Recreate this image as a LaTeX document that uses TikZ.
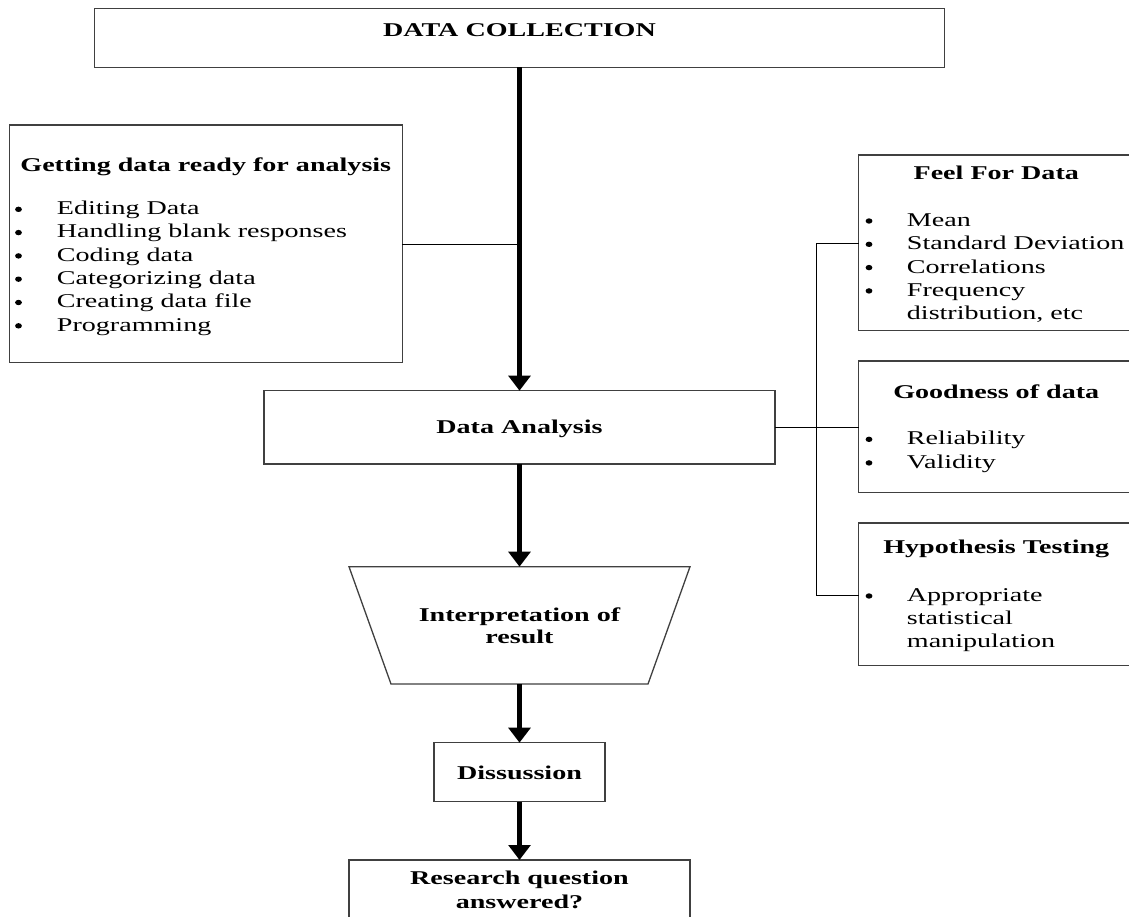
\documentclass[tikz,border=0pt]{standalone}
\usepackage{fontspec}
\setmainfont{Liberation Serif}[FakeStretch=1.44]
\usetikzlibrary{arrows.meta,shapes.geometric}
\newcommand\myfz{\fontsize{19.5pt}{23.3pt}\selectfont}
\tikzset{
  box/.style={draw=black!75, fill=white, line width=1.3pt, inner sep=0, outer sep=0},
  boxline/.style={draw=black!75, line width=1.3pt},
  flow/.style={line width=4.8pt, -{Triangle[width=21.7pt,length=15pt]}},
  link/.style={line width=1pt},
  ttl/.style={font=\myfz\bfseries, anchor=base, inner sep=0},
  itm/.style={font=\myfz, anchor=base west, inner sep=0},
  bul/.style={ellipse, fill=black, inner sep=0, minimum width=6.8pt, minimum height=5.4pt},
}
\begin{document}
\begin{tikzpicture}[x=1pt,y=-1pt]
\fill[white] (0,0) rectangle (1129,917);
\useasboundingbox (0,0) rectangle (1129,917);
\clip (0,0) rectangle (1129,917);

% Data collection
\node[box, minimum width=850, minimum height=59] (dc) at (519.5,37.8) {};
\node[ttl] (dct) at (519.5,36.6) {DATA COLLECTION};

% Getting data ready
\node[box, minimum width=393, minimum height=237.7] (get) at (205.8,243.85) {};
\node[ttl] (gett) at (205.8,171.4) {Getting data ready for analysis};
\foreach \t [count=\i] in {Editing Data, Handling blank responses, Coding data, Categorizing data, Creating data file, Programming} {
  \node[bul] (gb\i) at ({18.5},{209.3+23.3*(\i-1)}) {};
  \node[itm] (gi\i) at ({56.7},{214.7+23.3*(\i-1)}) {\t};
}

% Feel for data
\node[box, minimum width=275.5, minimum height=175.7] (feel) at (996.25,242.85) {};
\node[ttl] (feelt) at (996.25,179.4) {Feel For Data};
\foreach \t [count=\i] in {Mean, Standard Deviation, Correlations, Frequency} {
  \node[bul] (fb\i) at ({869},{221+23.3*(\i-1)}) {};
  \node[itm] (fi\i) at ({906.7},{226.4+23.3*(\i-1)}) {\t};
}
\node[itm] (fi5) at (906.7,319.6) {distribution, etc};

% Goodness of data
\node[box, minimum width=275.5, minimum height=131.7] (good) at (996.25,426.85) {};
\node[ttl] (goodt) at (996.25,398.7) {Goodness of data};
\node[bul] (ob1) at (869,439.3) {};
\node[itm] (oi1) at (906.7,444.7) {Reliability};
\node[bul] (ob2) at (869,462.9) {};
\node[itm] (oi2) at (906.7,468.3) {Validity};

% Hypothesis testing
\node[box, minimum width=275.5, minimum height=142.7] (hyp) at (996.25,594.35) {};
\node[ttl] (hypt) at (996.25,553.6) {Hypothesis Testing};
\node[bul] (hb1) at (869,596) {};
\node[itm] (hi1) at (906.7,601.4) {Appropriate};
\node[itm] (hi2) at (906.7,624.2) {statistical};
\node[itm] (hi3) at (906.7,647.2) {manipulation};

% Data analysis
\node[box, minimum width=511, minimum height=73.3] (da) at (519.5,427.35) {};
\node[ttl] (dat) at (519.5,433.1) {Data Analysis};

% Interpretation (trapezoid)
\node[inner sep=0, outer sep=0, minimum width=257, minimum height=117.3] (interp) at (519.5,625.35) {};
\draw[boxline] ([xshift=-170.5pt]interp.north) -- ([xshift=170.5pt]interp.north)
  -- ([xshift=128.5pt]interp.south) -- ([xshift=-128.5pt]interp.south) -- cycle;
\node[ttl] (it1) at (519.5,621.4) {Interpretation of};
\node[ttl] (it2) at (519.5,643.1) {result};

% Dissussion
\node[box, minimum width=171, minimum height=59] (diss) at (519.5,772.2) {};
\node[ttl] (disst) at (519.5,779.4) {Dissussion};

% Research question
\node[box, minimum width=341, minimum height=100] (res) at (519.5,910) {};
\node[ttl] (rt1) at (519.5,884.7) {Research question};
\node[ttl] (rt2) at (519.5,908.1) {answered?};

% flow arrows
\draw[flow] (dc.south) -- (da.north);
\draw[flow] (da.south) -- (interp.north);
\draw[flow] (interp.south) -- (diss.north);
\draw[flow] (diss.south) -- (res.north);

% thin connectors
\coordinate (gy) at (0,245);
\draw[link] (get.east |- gy) -- (dc.south |- gy);
\draw[link] (da.east) -- (good.west |- da.east);
\coordinate (bt) at (816,243.3);
\coordinate (bb) at (816,595);
\draw[link] (feel.west |- bt) -- (bt) -- (bb) -- (hyp.west |- bb);
\end{tikzpicture}
\end{document}
